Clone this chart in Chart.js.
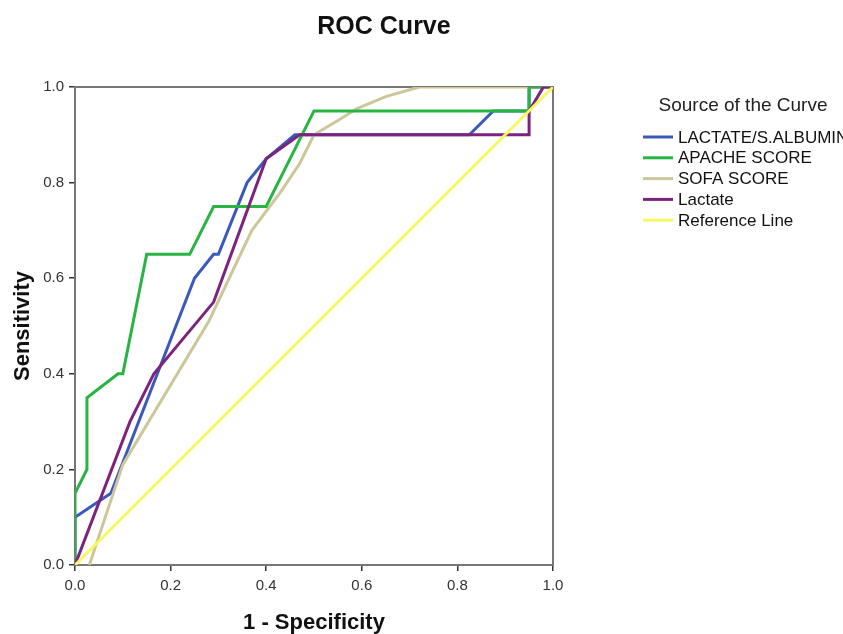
<!DOCTYPE html>
<html>
<head>
<meta charset="utf-8">
<title>ROC Curve</title>
<script src="https://cdn.jsdelivr.net/npm/chart.js@4.4.0/dist/chart.umd.min.js"></script>
<style>
html, body { margin: 0; padding: 0; background: #fff; }
#roc_chart { display: block; }
</style>
</head>
<body>
<canvas id="roc_chart" width="843" height="634"></canvas>
<script>
// CHART DATA
const tick_labels = ['0.0', '0.2', '0.4', '0.6', '0.8', '1.0'];
const series_names = ['LACTATE/S.ALBUMIN', 'APACHE SCORE', 'SOFA SCORE', 'Lactate', 'Reference Line'];
const series_colors = ['#3b59bb', '#27b443', '#cdc69b', '#7b237d', '#f7f760'];

// 1 - specificity (x) and sensitivity (y) for each curve
const albumin_x = [0, 0, 0.075, 0.25, 0.29, 0.30, 0.36, 0.40, 0.46, 0.825, 0.875, 0.95, 0.95, 1];
const albumin_y = [0, 0.10, 0.15, 0.60, 0.65, 0.65, 0.80, 0.85, 0.90, 0.90, 0.95, 0.95, 1, 1];

const apache_x = [0, 0, 0.025, 0.025, 0.09, 0.10, 0.15, 0.24, 0.29, 0.40, 0.50, 0.95, 0.95, 1];
const apache_y = [0, 0.15, 0.20, 0.35, 0.40, 0.40, 0.65, 0.65, 0.75, 0.75, 0.95, 0.95, 1, 1];

const sofa_x = [0.03, 0.10, 0.28, 0.37, 0.43, 0.47, 0.50, 0.55, 0.59, 0.65, 0.72, 1];
const sofa_y = [0, 0.21, 0.51, 0.70, 0.78, 0.84, 0.90, 0.93, 0.955, 0.98, 1, 1];

const lactate_x = [0, 0.115, 0.165, 0.29, 0.40, 0.47, 0.95, 0.95, 0.98, 1];
const lactate_y = [0, 0.30, 0.40, 0.55, 0.85, 0.90, 0.90, 0.95, 1, 1];

const reference_x = [0, 1];
const reference_y = [0, 1];

const FONT = "'Liberation Sans', Arial, sans-serif";

function toPoints(xs, ys){
	return xs.map((x, i) => ({ x: x, y: ys[i] }));
}

// title, legend and plot frame
const extra_parts = {
	id: 'extra_parts',
	beforeDatasetsDraw(chart){
		const c = chart.ctx;
		const a = chart.chartArea;
		c.save();
		c.strokeStyle = '#777';
		c.lineWidth = 2;
		c.strokeRect(a.left, a.top, a.right - a.left, a.bottom - a.top);
		c.restore();
	},
	afterDraw(chart){
		const c = chart.ctx;
		c.save();
		c.fillStyle = '#111';
		c.textAlign = 'center';
		c.textBaseline = 'middle';
		c.font = 'bold 25px ' + FONT;
		c.fillText('ROC Curve', 384, 27);

		c.font = '19px ' + FONT;
		c.fillStyle = '#222';
		c.fillText('Source of the Curve', 743, 106);

		c.textAlign = 'left';
		c.font = '17px ' + FONT;
		chart.data.datasets.forEach((ds, i) => {
			let y = 137 + i * 20.8;
			c.strokeStyle = ds.borderColor;
			c.lineWidth = 3;
			c.beginPath();
			c.moveTo(643, y);
			c.lineTo(673, y);
			c.stroke();
			c.fillStyle = '#111';
			c.fillText(ds.label, 678, y + 1);
		});
		c.restore();
	}
};

const all_x = [albumin_x, apache_x, sofa_x, lactate_x, reference_x];
const all_y = [albumin_y, apache_y, sofa_y, lactate_y, reference_y];
const draw_order = [5, 3, 4, 2, 1];

const datasets = series_names.map((name, i) => ({
	label: name,
	data: toPoints(all_x[i], all_y[i]),
	showLine: true,
	borderColor: series_colors[i],
	backgroundColor: series_colors[i],
	borderWidth: 3,
	pointRadius: 0,
	tension: 0,
	order: draw_order[i]
}));

const ctx = document.getElementById('roc_chart').getContext('2d');

new Chart(ctx, {
	type: 'scatter',
	data: { datasets: datasets },
	plugins: [extra_parts],
	options: {
		responsive: false,
		animation: false,
		layout: { padding: { top: 87, right: 290, bottom: 0, left: 0 } },
		plugins: {
			legend: { display: false },
			tooltip: { enabled: false },
			title: { display: false }
		},
		scales: {
			x: {
				type: 'linear',
				min: 0,
				max: 1,
				ticks: {
					stepSize: 0.2,
					color: '#333',
					font: { family: FONT, size: 15 },
					padding: 6,
					maxRotation: 0,
					callback: (value, index) => tick_labels[index]
				},
				grid: { drawOnChartArea: false, drawTicks: true, tickLength: 6, color: '#333', lineWidth: 1.5 },
				border: { display: true, color: '#333', width: 2 },
				title: {
					display: true,
					text: '1 - Specificity',
					color: '#111',
					font: { family: FONT, size: 22, weight: 'bold', lineHeight: 1 },
					padding: { top: 0, bottom: 0 }
				},
				afterFit: scale => { scale.height = 69; }
			},
			y: {
				type: 'linear',
				min: 0,
				max: 1,
				ticks: {
					stepSize: 0.2,
					color: '#333',
					font: { family: FONT, size: 15 },
					padding: 5,
					callback: (value, index) => tick_labels[index]
				},
				grid: { drawOnChartArea: false, drawTicks: true, tickLength: 6, color: '#333', lineWidth: 1.5 },
				border: { display: true, color: '#333', width: 2 },
				title: {
					display: true,
					text: 'Sensitivity',
					color: '#111',
					font: { family: FONT, size: 22, weight: 'bold' },
					padding: { top: 10, bottom: 0 }
				},
				afterFit: scale => { scale.width = 75; }
			}
		}
	}
});
</script>
</body>
</html>
